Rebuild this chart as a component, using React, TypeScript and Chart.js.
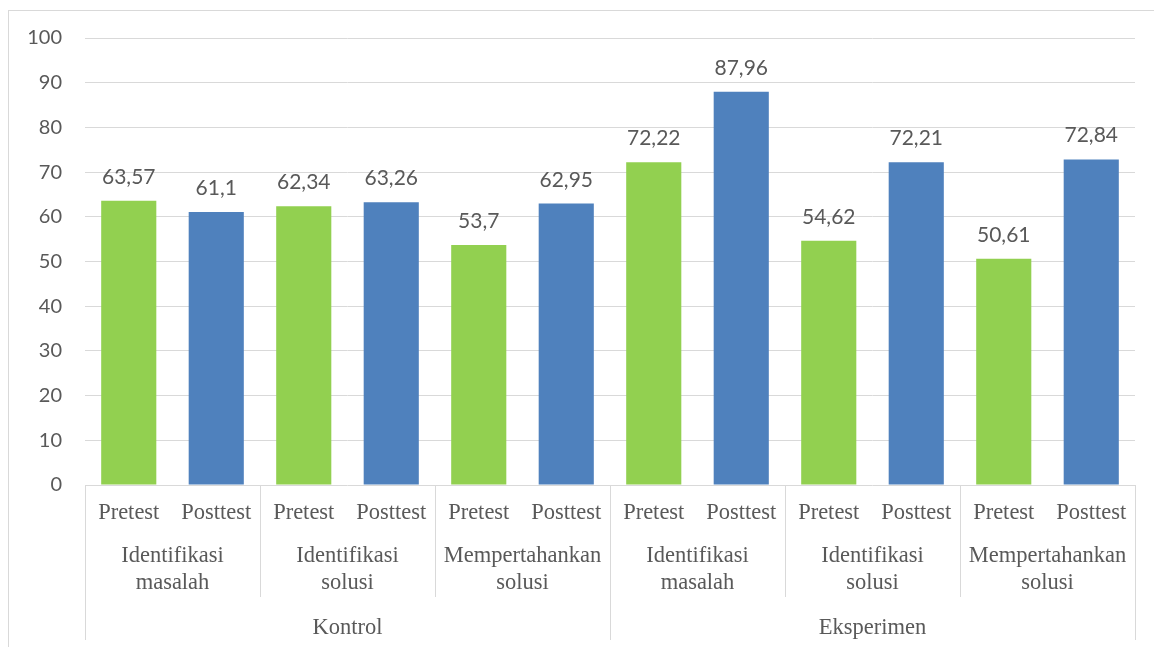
import React, { useEffect, useRef } from "react";
import { Chart, registerables } from "chart.js";

Chart.register(...registerables);

const testLabels = ["Pretest", "Posttest"];
const aspectLabels = [
  ["Identifikasi", "masalah"],
  ["Identifikasi", "solusi"],
  ["Mempertahankan", "solusi"],
];
const groupLabels = ["Kontrol", "Eksperimen"];
const scores = [63.57, 61.1, 62.34, 63.26, 53.7, 62.95, 72.22, 87.96, 54.62, 72.21, 50.61, 72.84];
const yTicks = [0, 10, 20, 30, 40, 50, 60, 70, 80, 90, 100];

const GREEN = "#92D050";
const BLUE = "#4F81BD";
const GRID = "#d9d9d9";
const TEXT = "#595959";
const SERIF = '"Liberation Serif", serif';

const categories: string[] = [];
groupLabels.forEach((g) =>
  aspectLabels.forEach((a) =>
    testLabels.forEach((t) => categories.push(g + " | " + a.join(" ") + " | " + t))
  )
);
const barColors = categories.map((_, i) => (i % 2 === 0 ? GREEN : BLUE));

const multiLevelPlugin = {
  id: "multiLevel",
  afterDraw(chart: any) {
    const ctx = chart.ctx;
    const xs = chart.scales.x;
    const area = chart.chartArea;
    const base = area.bottom;
    const px = (v: number) => xs.getPixelForValue(v);
    ctx.save();
    ctx.strokeStyle = GRID;
    ctx.lineWidth = 1;
    const nT = testLabels.length;
    const nA = aspectLabels.length;
    const n = categories.length;
    for (let b = 0; b <= n; b += nT) {
      const x = Math.round(px(b - 0.5)) + 0.5;
      const full = b % (nT * nA) === 0;
      ctx.beginPath();
      ctx.moveTo(x, base);
      ctx.lineTo(x, base + (full ? 155 : 112));
      ctx.stroke();
    }
    ctx.fillStyle = TEXT;
    ctx.textAlign = "center";
    ctx.textBaseline = "middle";
    ctx.font = "22.5px " + SERIF;
    for (let i = 0; i < n; i++) {
      ctx.fillText(testLabels[i % nT], px(i), base + 28);
    }
    for (let j = 0; j < n / nT; j++) {
      const c = (px(j * nT - 0.5) + px(j * nT + nT - 0.5)) / 2;
      const lines = aspectLabels[j % nA];
      lines.forEach((l, k) => ctx.fillText(l, c, base + 71 + k * 27));
    }
    for (let g = 0; g < groupLabels.length; g++) {
      const s = g * nT * nA;
      const c = (px(s - 0.5) + px(s + nT * nA - 0.5)) / 2;
      ctx.fillText(groupLabels[g], c, base + 143);
    }
    ctx.font = '21px Lato, "Open Sans", sans-serif';
    ctx.textBaseline = "alphabetic";
    const meta = chart.getDatasetMeta(0);
    meta.data.forEach((bar: any, i: number) => {
      ctx.fillText(String(scores[i]).replace(".", ","), bar.x, bar.y - 17);
    });
    ctx.restore();
  },
};

export default function App() {
  const ref = useRef<HTMLCanvasElement>(null);
  useEffect(() => {
    if (!ref.current) return;
    const chart = new Chart(ref.current, {
      type: "bar",
      data: {
        labels: categories,
        datasets: [
          {
            data: scores,
            backgroundColor: barColors,
            borderWidth: 0,
            barPercentage: 0.63,
            categoryPercentage: 1,
          },
        ],
      },
      options: {
        responsive: false,
        animation: false,
        devicePixelRatio: 1,
        layout: { padding: { top: 38, bottom: 162, right: 19, left: 0 } },
        plugins: { legend: { display: false }, tooltip: { enabled: false } },
        scales: {
          x: { display: false, offset: true },
          y: {
            min: 0,
            max: 100,
            afterBuildTicks: (s: any) => {
              s.ticks = yTicks.map((v) => ({ value: v }));
            },
            afterFit: (s: any) => {
              s.width = 85;
            },
            border: { display: false },
            grid: { color: GRID, lineWidth: 1, drawTicks: false },
            ticks: {
              color: TEXT,
              padding: 23,
              font: { family: "Lato", size: 20 },
            },
          },
        },
      },
      plugins: [multiLevelPlugin],
    });
    return () => chart.destroy();
  }, []);
  return (
    <div>
      <div
        style={{
          position: "fixed",
          left: 8,
          top: 10,
          width: 1170,
          height: 660,
          border: "1px solid #d9d9d9",
          boxSizing: "border-box",
        }}
      />
      <canvas
        ref={ref}
        width={1154}
        height={647}
        style={{ position: "fixed", left: 0, top: 0, width: 1154, height: 647 }}
      />
    </div>
  );
}
